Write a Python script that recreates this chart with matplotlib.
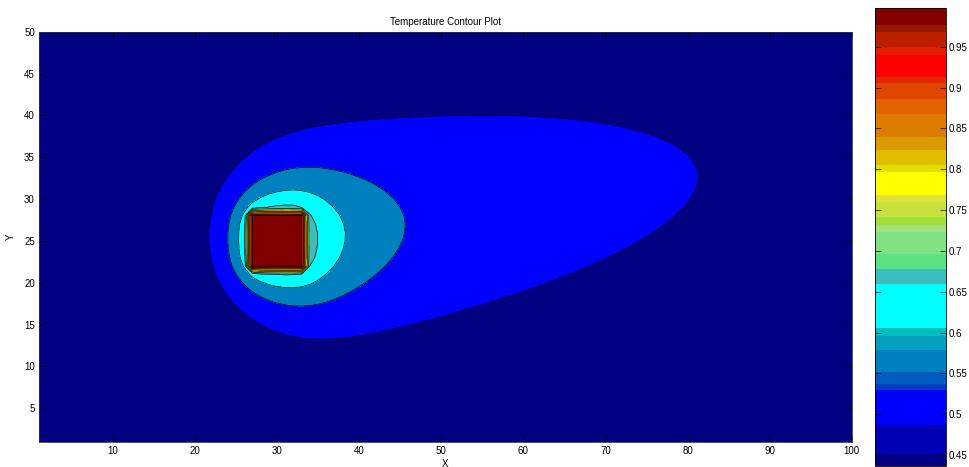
import numpy as np
import matplotlib
matplotlib.use("Agg")
import matplotlib.pyplot as plt
from matplotlib.colors import ListedColormap, BoundaryNorm
from matplotlib.cm import ScalarMappable

plt.rcParams["font.family"] = ["Liberation Sans", "DejaVu Sans"]

# ---- grid and physical set-up -------------------------------------------
x_nodes = np.arange(1, 101)          # 1 .. 100
y_nodes = np.arange(1, 51)           # 1 .. 50
block_x = (27, 33)                   # heated block, grid indices
block_y = (22, 28)
block_temp = 1.0
ambient_temp = 0.437
wind_angle_deg = 9.0                 # direction of the cross wind

# two transport modes: a wind-borne plume and a short-range conductive halo
# (Peclet number u/2D, screening sqrt(Pe^2 + k/D), crosswind/alongwind spread)
plume_params = (0.12, 0.12, 0.90)
halo_params = (0.03, 0.15, 1.30)

# measured isotherm crossings used to set the two mode amplitudes
probe_x = [24.0, 81.0]
probe_y = [25.0, 34.0]
probe_temp = [0.555, 0.5]

# isotherm levels drawn by the filled contour plot
contour_levels = [0.5, 0.555, 0.61, 0.665, 0.72, 0.775, 0.83, 0.885, 0.94, 0.995]

# colour scale shown in the colour bar (lower edges, colours)
cbar_edges = [0.437, 0.451, 0.487, 0.530, 0.537, 0.552, 0.579, 0.596, 0.606,
              0.660, 0.678, 0.696, 0.723, 0.732, 0.741, 0.760, 0.769, 0.796,
              0.805, 0.824, 0.840, 0.867, 0.886, 0.905, 0.913, 0.940, 0.950,
              0.968, 0.976, 0.997]
cbar_colors = [(0, 0, 128), (0, 0, 180), (0, 0, 255), (0, 60, 190), (0, 92, 190),
               (0, 128, 190), (0, 160, 190), (0, 190, 190), (0, 255, 255),
               (60, 190, 190), (90, 225, 130), (130, 225, 130), (160, 225, 130),
               (160, 225, 60), (200, 225, 60), (225, 225, 60), (255, 255, 0),
               (225, 225, 0), (225, 190, 0), (220, 155, 0), (220, 125, 0),
               (225, 100, 0), (225, 70, 0), (225, 40, 0), (255, 0, 0),
               (225, 30, 0), (190, 30, 0), (150, 25, 0), (128, 0, 0)]
cbar_ticks = [0.45, 0.5, 0.55, 0.6, 0.65, 0.7, 0.75, 0.8, 0.85, 0.9, 0.95]


def bessel_k0(z):
    """Modified Bessel function K0 (Abramowitz & Stegun 9.8.5 / 9.8.6)."""
    z = np.asarray(z, dtype=float)
    out = np.empty_like(z)
    small = z <= 2.0
    zs = z[small]
    q = (zs / 2.0) ** 2
    out[small] = (-np.log(zs / 2.0) * np.i0(zs)
                  + (-0.57721566 + q * (0.42278420 + q * (0.23069756 + q * (0.03488590
                     + q * (0.00262698 + q * (0.00010750 + q * 0.00000740)))))))
    zl = z[~small]
    t = 2.0 / zl
    out[~small] = (np.exp(-zl) / np.sqrt(zl)
                   * (1.25331414 + t * (-0.07832358 + t * (0.02189568 + t * (-0.01062446
                      + t * (0.00587872 + t * (-0.00251540 + t * 0.00053208)))))))
    return out


def rect_outline(x0, x1, y0, y1, step):
    nx_, ny_ = int(round((x1 - x0) / step)), int(round((y1 - y0) / step))
    xs = np.concatenate([x0 + step * np.arange(nx_), np.full(ny_, x1),
                         x1 - step * np.arange(nx_), np.full(ny_, x0)])
    ys = np.concatenate([np.full(nx_, y0), y0 + step * np.arange(ny_),
                         np.full(nx_, y1), y1 - step * np.arange(ny_)])
    return xs, ys


def kernel(px, py, sx, sy, params):
    """Free-space Green's function of steady advection-diffusion in a cross wind."""
    pe, beta, cross = params
    ang = np.deg2rad(wind_angle_deg)
    dx = np.asarray(px, dtype=float)[..., None] - sx
    dy = np.asarray(py, dtype=float)[..., None] - sy
    s = dx * np.cos(ang) + dy * np.sin(ang)
    n = (-dx * np.sin(ang) + dy * np.cos(ang)) / cross
    r = np.maximum(np.hypot(s, n), 0.05)
    return np.exp(pe * s) * bessel_k0(beta * r)


# fundamental solutions inside the block, uniform temperature on its surface
src_x, src_y = rect_outline(block_x[0] + 1, block_x[1] - 1, block_y[0] + 1, block_y[1] - 1, 0.5)
col_x, col_y = rect_outline(block_x[0], block_x[1], block_y[0], block_y[1], 0.25)


def mode_field(px, py, params):
    w, *_ = np.linalg.lstsq(kernel(col_x, col_y, src_x, src_y, params),
                            np.ones_like(col_x), rcond=1e-10)
    return kernel(px, py, src_x, src_y, params) @ w


X, Y = np.meshgrid(x_nodes, y_nodes)
modes = [plume_params, halo_params]
fields = [mode_field(X, Y, p) for p in modes]
probe_m = np.column_stack([mode_field(np.array(probe_x), np.array(probe_y), p) for p in modes])
amps = np.linalg.solve(probe_m, np.array(probe_temp) - ambient_temp)
amps = np.maximum(amps, 0.0)
T = ambient_temp + sum(a * f for a, f in zip(amps, fields))
inside = (X >= block_x[0]) & (X <= block_x[1]) & (Y >= block_y[0]) & (Y <= block_y[1])
T[inside] = block_temp
T = np.clip(T, ambient_temp, block_temp)

# ---- colours -------------------------------------------------------------
rgb = [tuple(c / 255.0 for c in col) for col in cbar_colors]
cmap = ListedColormap(rgb)
norm = BoundaryNorm(cbar_edges, cmap.N)


def colour_at(v):
    i = np.searchsorted(cbar_edges, v, side="right") - 1
    return rgb[int(np.clip(i, 0, len(rgb) - 1))]


fill_levels = [min(T.min(), cbar_edges[0]) - 1e-6] + contour_levels + [T.max() + 1e-6]
fill_colors = [colour_at(cbar_edges[0])] + [colour_at(v) for v in contour_levels]

# ---- figure --------------------------------------------------------------
W, H = 969, 467
fig = plt.figure(figsize=(W / 100, H / 100), dpi=100)
ax = fig.add_axes([39 / W, (H - 441.7) / H, (851.7 - 39) / W, (441.7 - 31.7) / H])
ax.contourf(X, Y, T, levels=fill_levels, colors=fill_colors)
ax.contour(X, Y, T, levels=contour_levels, colors="k", linewidths=0.5)
ax.set_xlim(1, 100)
ax.set_ylim(1, 50)
ax.set_xticks(np.arange(10, 101, 10))
ax.set_yticks(np.arange(5, 51, 5))
ax.tick_params(direction="in", length=4, width=0.5, top=True, right=True,
               labelsize=7, pad=3, colors="k")
for sp in ax.spines.values():
    sp.set_linewidth(0.6)
    sp.set_color("#333333")
ax.set_title("Temperature Contour Plot", fontsize=7, pad=5)
ax.set_xlabel("X", fontsize=7, labelpad=2)
ax.set_ylabel("Y", fontsize=7, labelpad=6)

cax = fig.add_axes([875 / W, (H - 465.7) / H, 70.7 / W, (465.7 - 8.3) / H])
cb = fig.colorbar(ScalarMappable(norm=norm, cmap=cmap), cax=cax,
                  ticks=cbar_ticks, spacing="proportional")
cb.ax.set_yticklabels([f"{t:g}" for t in cbar_ticks])
cb.outline.set_linewidth(0.6)
cax.minorticks_off()
cax.yaxis.set_ticks_position("both")
cax.tick_params(direction="in", length=4, width=0.5, labelsize=7, pad=2,
                left=True, right=True, labelleft=False, labelright=True)

fig.savefig("out.png", dpi=100)
